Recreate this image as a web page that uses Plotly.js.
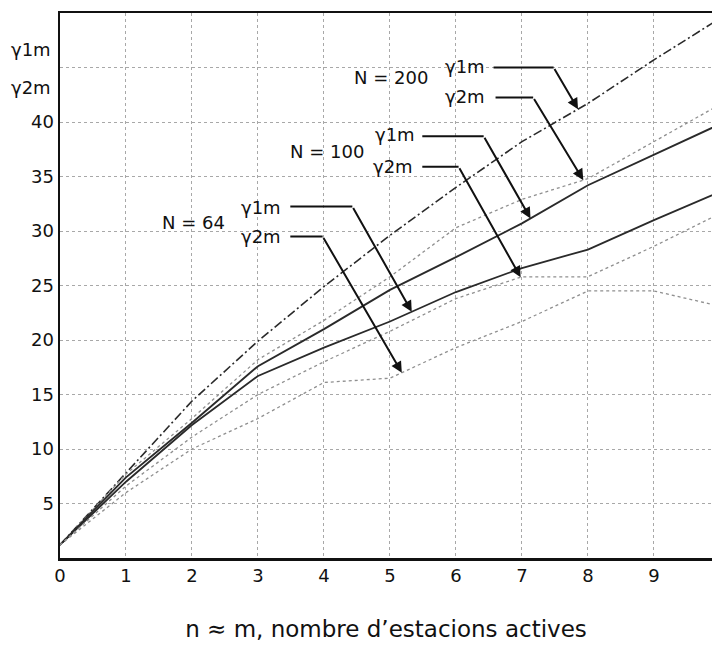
<!DOCTYPE html>
<html>
<head>
<meta charset="utf-8">
<script src="https://cdn.plot.ly/plotly-3.0.1.min.js"></script>
<style>html,body{margin:0;padding:0;background:#fff;}#chart{width:712px;height:655px;}</style>
</head>
<body>
<div id="chart"></div>
<script>
// ---- data ----
const xVals = [0, 1, 2, 3, 4, 5, 6, 7, 8, 9, 10];
const n200g1 = [1.2, 7.8, 14.4, 19.9, 24.9, 29.6, 34.0, 38.2, 41.7, 45.7, 49.5];
const n200g2 = [1.2, 7.7, 12.8, 18.2, 21.8, 25.8, 30.3, 32.9, 34.8, 38.2, 41.6];
const n100g1 = [1.2, 7.4, 12.4, 17.6, 21.0, 24.6, 27.6, 30.7, 34.2, 37.0, 39.8];
const n64g1  = [1.2, 7.0, 12.2, 16.7, 19.3, 21.7, 24.4, 26.6, 28.3, 31.0, 33.6];
const n100g2 = [1.2, 6.6, 11.1, 15.0, 18.0, 20.8, 23.8, 25.8, 25.8, 28.6, 31.6];
const n64g2  = [1.2, 6.0, 10.0, 12.8, 16.1, 16.5, 19.3, 21.7, 24.5, 24.5, 23.1];
const xTickVals = [0, 1, 2, 3, 4, 5, 6, 7, 8, 9];
const xTickText = ['0', '1', '2', '3', '4', '5', '6', '7', '8', '9'];
const yTickVals = [5, 10, 15, 20, 25, 30, 35, 40, 45];
const yTickText = ['5', '10', '15', '20', '25', '30', '35', '40', ''];
const xTitle = 'n \u2248 m, nombre d\u2019estacions actives';

function at(arr, x) {
  const i = Math.min(Math.floor(x), arr.length - 2);
  const t = x - i;
  return arr[i] + t * (arr[i + 1] - arr[i]);
}

const FONT = 'DejaVu Sans, Liberation Sans, sans-serif';
const dark = '#2a2a2a';
const faint = '#8f8f8f';

const traces = [
  {x: xVals, y: n200g1, mode: 'lines', line: {color: dark, width: 1.6, dash: '9px,3px,2px,3px'}},
  {x: xVals, y: n200g2, mode: 'lines', line: {color: faint, width: 1.3, dash: 'dot'}},
  {x: xVals, y: n100g1, mode: 'lines', line: {color: dark, width: 1.9}},
  {x: xVals, y: n64g1,  mode: 'lines', line: {color: dark, width: 1.8}},
  {x: xVals, y: n100g2, mode: 'lines', line: {color: faint, width: 1.3, dash: 'dot'}},
  {x: xVals, y: n64g2,  mode: 'lines', line: {color: faint, width: 1.3, dash: 'dot'}}
];

// leader definitions: label position, bend start/end, target on series
const leaders = [
  {label: '\u03B31m', lx: 6.14, ly: 45.1, h0: 6.57, h1: 7.48, hy: 45.0, series: n200g1, tx: 7.85},
  {label: '\u03B32m', lx: 6.13, ly: 42.3, h0: 6.60, h1: 7.17, hy: 42.25, series: n200g2, tx: 7.93},
  {label: '\u03B31m', lx: 5.07, ly: 38.85, h0: 5.49, h1: 6.42, hy: 38.7, series: n100g1, tx: 7.13},
  {label: '\u03B32m', lx: 5.05, ly: 35.9, h0: 5.49, h1: 6.04, hy: 35.9, series: n100g2, tx: 6.98},
  {label: '\u03B31m', lx: 3.05, ly: 32.2, h0: 3.49, h1: 4.43, hy: 32.25, series: n64g1, tx: 5.33},
  {label: '\u03B32m', lx: 3.05, ly: 29.5, h0: 3.49, h1: 3.98, hy: 29.5, series: n64g2, tx: 5.18}
];
const groupLabels = [
  {text: 'N = 200', x: 5.02, y: 44.1},
  {text: 'N = 100', x: 4.04, y: 37.3},
  {text: 'N = 64', x: 2.02, y: 30.8}
];

const annotations = [];
const shapes = [];
leaders.forEach(l => {
  annotations.push({x: l.lx, y: l.ly, xref: 'x', yref: 'y', text: l.label, showarrow: false,
    font: {family: FONT, size: 18, color: '#111'}});
  shapes.push({type: 'line', xref: 'x', yref: 'y', x0: l.h0, x1: l.h1, y0: l.hy, y1: l.hy,
    line: {color: '#111', width: 2}});
  annotations.push({x: l.tx, y: at(l.series, l.tx), xref: 'x', yref: 'y',
    ax: l.h1, ay: l.hy, axref: 'x', ayref: 'y', text: '', showarrow: true,
    arrowhead: 2, arrowsize: 1.1, arrowwidth: 2, arrowcolor: '#111', standoff: 0, startstandoff: 0});
});
groupLabels.forEach(g => {
  annotations.push({x: g.x, y: g.y, xref: 'x', yref: 'y', text: g.text, showarrow: false,
    font: {family: FONT, size: 18, color: '#111'}});
});
// y-axis title (stacked labels)
annotations.push({x: -0.011, y: 46.65, xref: 'paper', yref: 'y', xanchor: 'right', text: '\u03B31m',
  showarrow: false, font: {family: FONT, size: 18, color: '#111'}});
annotations.push({x: -0.011, y: 43.2, xref: 'paper', yref: 'y', xanchor: 'right', text: '\u03B32m',
  showarrow: false, font: {family: FONT, size: 18, color: '#111'}});

const layout = {
  width: 712, height: 655,
  margin: {l: 60, r: 0, t: 13, b: 97},
  paper_bgcolor: '#fff', plot_bgcolor: '#fff',
  showlegend: false,
  font: {family: FONT, size: 18, color: '#111'},
  xaxis: {
    range: [0, 9.88], tickvals: xTickVals, ticktext: xTickText,
    showgrid: true, gridcolor: '#a8a8a8', griddash: 'dot', gridwidth: 1,
    zeroline: false, showline: true, linecolor: '#111', linewidth: 2.5, mirror: true,
    ticks: '', tickfont: {family: FONT, size: 18, color: '#111'},
    title: {text: xTitle, font: {family: FONT, size: 23, color: '#111'}, standoff: 36}
  },
  yaxis: {
    range: [0, 50], tickvals: yTickVals, ticktext: yTickText,
    showgrid: true, gridcolor: '#a8a8a8', griddash: 'dot', gridwidth: 1,
    zeroline: false, showline: true, linecolor: '#111', linewidth: 2.5, mirror: false,
    ticks: '', tickfont: {family: FONT, size: 18, color: '#111'}
  },
  annotations: annotations,
  shapes: shapes
};

Plotly.newPlot('chart', traces, layout, {displayModeBar: false, staticPlot: true});
</script>
</body>
</html>
